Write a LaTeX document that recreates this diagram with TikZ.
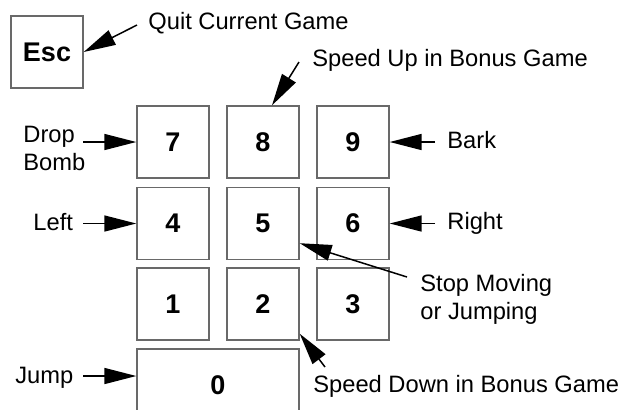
\documentclass[tikz,border=0pt]{standalone}
\usepackage{fontspec}
\setmainfont{Liberation Sans}
\usetikzlibrary{arrows.meta}
\definecolor{keyline}{RGB}{105,105,105}
\begin{document}
\begin{tikzpicture}[x=0.5pt,y=-0.5pt,
  keybox/.style={draw=keyline,line width=0.7pt,inner sep=0pt,minimum width=36pt,minimum height=36pt,font=\fontsize{13.5}{16}\selectfont\bfseries},
  lbl/.style={inner sep=0pt,anchor=base west,align=left,font=\fontsize{11.85}{14}\selectfont},
  arr/.style={draw=black,line width=0.75pt,-{Triangle[length=16pt,width=8pt]}}]
\useasboundingbox (0,0) rectangle (621,409);
% keys
\node[keybox] (esc) at (47,52) {Esc};
\node[keybox] (k7) at (173,142) {7};
\node[keybox] (k8) at (263,142) {8};
\node[keybox] (k9) at (353,142) {9};
\node[keybox] (k4) at (173,223.5) {4};
\node[keybox] (k5) at (263,223.5) {5};
\node[keybox] (k6) at (353,223.5) {6};
\node[keybox] (k1) at (173,304) {1};
\node[keybox] (k2) at (263,304) {2};
\node[keybox] (k3) at (353,304) {3};
\node[keybox,minimum width=81pt] (k0) at (218,385) {0};
% labels
\node[lbl] (lquit) at (148,29) {Quit Current Game};
\node[lbl] (lsup) at (312,66) {Speed Up in Bonus Game};
\node[lbl] (ldrop) at (23,170) {Drop\\Bomb};
\node[lbl] (lleft) at (33,230) {Left};
\node[lbl] (lbark) at (447,148) {Bark};
\node[lbl] (lright) at (447,229.5) {Right};
\node[lbl] (lstop) at (420,319) {Stop Moving\\or Jumping};
\node[lbl] (ljump) at (15,383) {Jump};
\node[lbl] (lsdown) at (313,392) {Speed Down in Bonus Game};
% arrow start points
\coordinate (cquit) at (137,25);
\coordinate (csup) at (299,62);
\coordinate (cdrop) at (83,142);
\coordinate (cleft) at (83,223.5);
\coordinate (cbark) at (435,142);
\coordinate (cright) at (435,223.5);
\coordinate (cstop) at (407,277);
\coordinate (csdown) at (325,367);
\coordinate (cjump) at (83,376);
% arrows
\draw[arr] (cquit) -- (esc.east);
\draw[arr] (csup) -- ([xshift=4.5pt]k8.north);
\draw[arr] (cdrop) -- (k7.west);
\draw[arr] (cleft) -- (k4.west);
\draw[arr] (cbark) -- (k9.east);
\draw[arr] (cright) -- (k6.east);
\draw[arr] (cstop) -- ([yshift=8.5pt]k5.south east);
\draw[arr] (csdown) -- ([yshift=3.5pt]k2.south east);
\draw[arr] (cjump) -- ([yshift=4.5pt]k0.west);
\end{tikzpicture}
\end{document}
